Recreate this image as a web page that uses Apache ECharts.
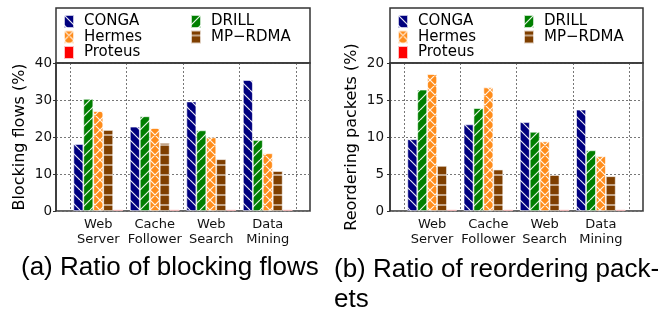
<!DOCTYPE html>
<html>
<head>
<meta charset="utf-8">
<script src="https://cdn.jsdelivr.net/npm/echarts@6/dist/echarts.min.js"></script>
<style>
  html, body { margin: 0; padding: 0; background: #fff; }
  #chart { width: 670px; height: 316px; }
</style>
</head>
<body>
<div id="chart"></div>
<script>
// workloads on the x axis
const categories = ['Web\nServer', 'Cache\nFollower', 'Web\nSearch', 'Data\nMining'];
const schemes = ['CONGA', 'DRILL', 'Hermes', 'MP\u2212RDMA', 'Proteus'];

// (a) ratio of blocking flows, %
const blockConga   = [18.1, 22.8, 29.6, 35.4];
const blockDrill   = [30.3, 25.6, 21.8, 19.2];
const blockHermes  = [27.0, 22.4, 19.9, 15.6];
const blockMprdma  = [21.9, 18.4, 14.0, 10.8];
const blockProteus = [0.4, 0.4, 0.4, 0.4];

// (b) ratio of reordering packets, %
const reorderConga   = [9.7, 11.7, 12.0, 13.7];
const reorderDrill   = [16.4, 13.9, 10.7, 8.2];
const reorderHermes  = [18.5, 16.7, 9.4, 7.4];
const reorderMprdma  = [6.1, 5.6, 4.9, 4.7];
const reorderProteus = [0.2, 0.2, 0.2, 0.2];

const blockTicks = [0, 40, 10];    // min, max, interval
const reorderTicks = [0, 20, 5];

// hatch fill like matplotlib ('\\', '/', 'x', '-')
function hatch(bg, kind) {
    const size = 10;
    const c = document.createElement('canvas');
    c.width = size; c.height = size;
    const ctx = c.getContext('2d');
    ctx.fillStyle = bg;
    ctx.fillRect(0, 0, size, size);
    if (kind) {
        ctx.strokeStyle = 'rgba(255,255,255,0.9)';
        ctx.lineWidth = 1.2;
        ctx.beginPath();
        if (kind === 'back' || kind === 'cross') {
            [-size, 0, size].forEach(o => { ctx.moveTo(o, 0); ctx.lineTo(o + size, size); });
        }
        if (kind === 'fwd' || kind === 'cross') {
            [-size, 0, size].forEach(o => { ctx.moveTo(o, size); ctx.lineTo(o + size, 0); });
        }
        if (kind === 'horiz') {
            ctx.moveTo(0, 5); ctx.lineTo(size, 5);
        }
        ctx.stroke();
    }
    return { image: c, repeat: 'repeat' };
}

const fills = [
    hatch('#00007f', 'back'),
    hatch('#007f00', 'fwd'),
    hatch('#ff8c1a', 'cross'),
    hatch('#7f3f00', 'horiz'),
    hatch('#ff0000', null)
];

const font = 'DejaVu Sans';
const gridTop = 63, gridH = 148;

function makeBars(values, axisIdx) {
    return values.map((vals, i) => ({
        name: schemes[i],
        type: 'bar',
        xAxisIndex: axisIdx,
        yAxisIndex: axisIdx,
        barCategoryGap: '12%',
        barGap: '0%',
        itemStyle: {
            color: fills[i],
            borderColor: 'rgba(255,255,255,0.75)',
            borderWidth: 0.8
        },
        data: vals
    }));
}

function frameY(ticks, idx, name, gap, margin) {
    return {
        gridIndex: idx,
        type: 'value',
        min: ticks[0], max: ticks[1], interval: ticks[2],
        name: name,
        nameLocation: 'middle',
        nameGap: gap,
        nameTextStyle: { fontFamily: font, fontSize: 16, color: '#000' },
        axisLine: { show: true, lineStyle: { color: '#333', width: 1.5 } },
        axisTick: { show: true, length: 3, lineStyle: { color: '#333' } },
        axisLabel: { fontFamily: font, fontSize: 13.5, color: '#111', margin: margin },
        splitLine: { show: true, lineStyle: { color: '#777', type: [2, 2], width: 1 } }
    };
}

function barX(idx) {
    return {
        gridIndex: idx,
        type: 'category',
        data: categories,
        axisLine: { show: false },
        axisTick: { show: false },
        axisLabel: { interval: 0, hideOverlap: false, fontFamily: font, fontSize: 13, lineHeight: 15, color: '#111', margin: 6 },
        splitLine: { show: true, interval: 0, lineStyle: { color: '#777', type: [2, 2], width: 1 } }
    };
}

function legendCol(left, names) {
    return {
        orient: 'vertical',
        left: left,
        top: 14,
        padding: 0,
        itemGap: 0.5,
        itemWidth: 10,
        itemHeight: 13,
        icon: 'rect',
        data: names,
        textStyle: { fontFamily: font, fontSize: 15, lineHeight: 15, color: '#000', padding: [0, 0, 0, 5] }
    };
}

const chart = echarts.init(document.getElementById('chart'));
chart.setOption({
    backgroundColor: '#fff',
    animation: false,
    title: [
        {
            text: '(a) Ratio of blocking flows',
            left: 21, top: 255, padding: 0,
            textStyle: { fontFamily: 'Liberation Sans', fontSize: 26, fontWeight: 'normal', color: '#000' }
        },
        {
            text: '(b) Ratio of reordering pack-\nets',
            left: 334, top: 255, padding: 0,
            textStyle: { fontFamily: 'Liberation Sans', fontSize: 26, lineHeight: 30, fontWeight: 'normal', color: '#000' }
        }
    ],
    legend: [
        legendCol(63, ['CONGA', 'Hermes', 'Proteus']),
        legendCol(190, ['DRILL', 'MP\u2212RDMA']),
        legendCol(397, ['CONGA', 'Hermes', 'Proteus']),
        legendCol(523, ['DRILL', 'MP\u2212RDMA'])
    ],
    graphic: [
        { type: 'rect', shape: { x: 56, y: 8, width: 254, height: 55 }, style: { fill: 'none', stroke: '#333', lineWidth: 1.5 }, z: 10 },
        { type: 'rect', shape: { x: 390, y: 8, width: 253, height: 55 }, style: { fill: 'none', stroke: '#333', lineWidth: 1.5 }, z: 10 }
    ],
    grid: [
        { left: 56, top: gridTop, width: 254, height: gridH, show: true, borderColor: '#333', borderWidth: 1.5, backgroundColor: 'transparent' },
        { left: 70, top: gridTop, width: 226, height: gridH },
        { left: 390, top: gridTop, width: 253, height: gridH, show: true, borderColor: '#333', borderWidth: 1.5, backgroundColor: 'transparent' },
        { left: 404, top: gridTop, width: 225, height: gridH }
    ],
    xAxis: [
        { gridIndex: 0, type: 'value', min: 0, max: 1, show: false },
        barX(1),
        { gridIndex: 2, type: 'value', min: 0, max: 1, show: false },
        barX(3)
    ],
    yAxis: [
        frameY(blockTicks, 0, 'Blocking flows (%)', 28, 4),
        { gridIndex: 1, type: 'value', min: blockTicks[0], max: blockTicks[1], show: false },
        frameY(reorderTicks, 2, 'Reordering packets (%)', 30, 6),
        { gridIndex: 3, type: 'value', min: reorderTicks[0], max: reorderTicks[1], show: false }
    ],
    series: [].concat(
        makeBars([blockConga, blockDrill, blockHermes, blockMprdma, blockProteus], 1),
        makeBars([reorderConga, reorderDrill, reorderHermes, reorderMprdma, reorderProteus], 3)
    )
});
</script>
</body>
</html>
